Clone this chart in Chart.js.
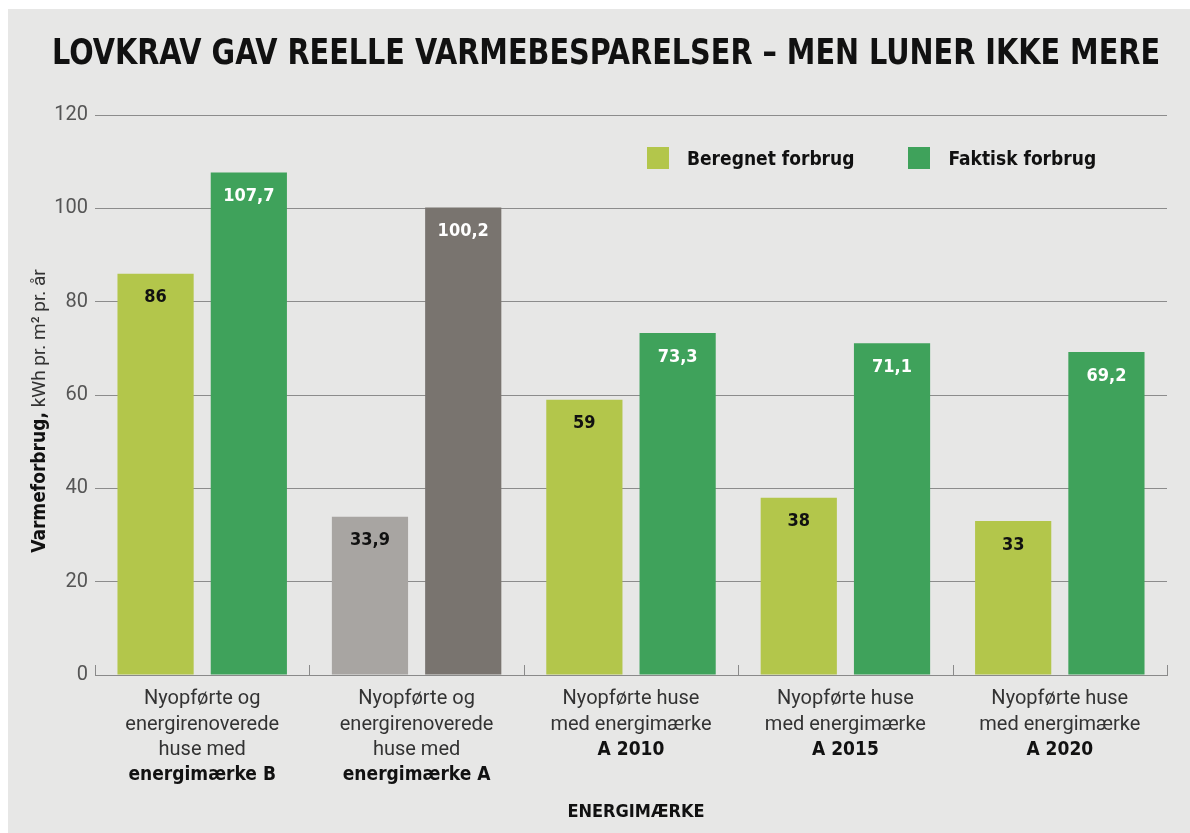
<!DOCTYPE html>
<html>
<head>
<meta charset="utf-8">
<script src="https://cdn.jsdelivr.net/npm/chart.js@4.4.1/dist/chart.umd.min.js"></script>
<style>
    html, body { margin: 0; padding: 0; background: #ffffff; }
    #wrap { position: absolute; left: 8px; top: 9px; width: 1182px; height: 824px; background: #e7e7e6; }
    #holder { position: absolute; left: 0; top: 0; width: 1190px; height: 833px; }
    #legend { position: absolute; top: 147px; left: 647px; display: flex; font-family: "DejaVu Sans Condensed", "DejaVu Sans", sans-serif; font-weight: bold; font-size: 19px; color: #111; }
    #legend .item { display: flex; align-items: center; margin-right: 54px; }
    #legend .box { width: 22px; height: 22px; margin-right: 18px; }
</style>
</head>
<body>
<div id="wrap"></div>
<div id="holder"><canvas id="grafico" width="1190" height="833"></canvas></div>
<div id="legend"></div>
<script>
// =================================================================
// Data
// =================================================================
const titulo = 'LOVKRAV GAV REELLE VARMEBESPARELSER – MEN LUNER IKKE MERE';
const kategoriLinjer = [
    ['Nyopførte og', 'energirenoverede', 'huse med'],
    ['Nyopførte og', 'energirenoverede', 'huse med'],
    ['Nyopførte huse', 'med energimærke'],
    ['Nyopførte huse', 'med energimærke'],
    ['Nyopførte huse', 'med energimærke']
];
const kategoriFed = ['energimærke B', 'energimærke A', 'A 2010', 'A 2015', 'A 2020'];
const serieNavne = ['Beregnet forbrug', 'Faktisk forbrug'];
const beregnet = [86, 33.9, 59, 38, 33];
const faktisk = [107.7, 100.2, 73.3, 71.1, 69.2];
const yTicks = [0, 20, 40, 60, 80, 100, 120];
const xTitel = 'ENERGIMÆRKE';
const yTitelFed = 'Varmeforbrug,';
const yTitelRest = ' kWh pr. m² pr. år';

const lysGroen = '#b3c64b';
const moerkGroen = '#3fa25b';
const lysGraa = '#a8a5a2';
const moerkGraa = '#79746f';

const tekstFont = 'Roboto, "Noto Sans", sans-serif';
const fedFont = '"DejaVu Sans Condensed", "DejaVu Sans", sans-serif';

const fmt = v => String(v).replace('.', ',');

// legend (HTML)
const legendEl = document.getElementById('legend');
[lysGroen, moerkGroen].forEach((c, i) => {
    const it = document.createElement('div');
    it.className = 'item';
    it.innerHTML = '<span class="box" style="background:' + c + '"></span>' + serieNavne[i];
    legendEl.appendChild(it);
});

// custom drawing: title, labels in bars, x labels, y title, ticks
const tegnPlugin = {
    id: 'tegn',
    afterDraw(chart) {
        const ctx = chart.ctx;
        const area = chart.chartArea;
        const x = chart.scales.x;

        // title, fitted to width
        ctx.save();
        ctx.font = 'bold 36px ' + fedFont;
        ctx.fillStyle = '#111';
        ctx.textBaseline = 'alphabetic';
        const w = ctx.measureText(titulo).width;
        const maal = 1108;
        ctx.translate(52, 64);
        ctx.scale(maal / w, 1);
        ctx.fillText(titulo, 0, 0);
        ctx.restore();

        // values inside bars
        ctx.save();
        ctx.font = 'bold 18px ' + fedFont;
        ctx.textAlign = 'center';
        ctx.textBaseline = 'middle';
        chart.data.datasets.forEach((ds, di) => {
            chart.getDatasetMeta(di).data.forEach((bar, i) => {
                ctx.fillStyle = (di === 0) ? '#111' : '#fff';
                ctx.fillText(fmt(ds.data[i]), bar.x, bar.y + 24);
            });
        });
        ctx.restore();

        // x-axis tick marks pointing up
        ctx.save();
        ctx.strokeStyle = '#8a8a8a';
        ctx.lineWidth = 1;
        const n = kategoriLinjer.length;
        const bredde = (area.right - area.left) / n;
        for (let i = 0; i <= n; i++) {
            const px = Math.round(area.left + i * bredde) + 0.5;
            ctx.beginPath();
            ctx.moveTo(px, area.bottom - 10);
            ctx.lineTo(px, area.bottom);
            ctx.stroke();
        }
        ctx.restore();

        // category labels
        ctx.save();
        ctx.textAlign = 'center';
        ctx.textBaseline = 'middle';
        kategoriLinjer.forEach((linjer, i) => {
            const cx = x.getPixelForTick(i);
            let y = area.bottom + 24;
            ctx.fillStyle = '#333';
            ctx.font = '20px ' + tekstFont;
            linjer.forEach(l => { ctx.fillText(l, cx, y); y += 25.5; });
            ctx.fillStyle = '#111';
            ctx.font = 'bold 19px ' + fedFont;
            ctx.fillText(kategoriFed[i], cx, y);
        });
        // x title
        ctx.font = 'bold 18px ' + fedFont;
        ctx.fillStyle = '#111';
        ctx.fillText(xTitel, (area.left + area.right) / 2 + 5, 812);
        ctx.restore();

        // y title with bold part
        ctx.save();
        ctx.translate(40, 411);
        ctx.rotate(-Math.PI / 2);
        ctx.textBaseline = 'middle';
        ctx.font = 'bold 19px ' + fedFont;
        const w1 = ctx.measureText(yTitelFed).width;
        ctx.font = '19px ' + tekstFont;
        const w2 = ctx.measureText(yTitelRest).width;
        let sx = -(w1 + w2) / 2;
        ctx.font = 'bold 19px ' + fedFont;
        ctx.fillStyle = '#111';
        ctx.fillText(yTitelFed, sx, 0);
        ctx.font = '19px ' + tekstFont;
        ctx.fillStyle = '#333';
        ctx.fillText(yTitelRest, sx + w1, 0);
        ctx.restore();
    }
};

const ctx = document.getElementById('grafico').getContext('2d');
new Chart(ctx, {
    type: 'bar',
    data: {
        labels: kategoriFed,
        datasets: [
            {
                label: serieNavne[0],
                data: beregnet,
                backgroundColor: [lysGroen, lysGraa, lysGroen, lysGroen, lysGroen]
            },
            {
                label: serieNavne[1],
                data: faktisk,
                backgroundColor: [moerkGroen, moerkGraa, moerkGroen, moerkGroen, moerkGroen]
            }
        ]
    },
    options: {
        responsive: false,
        animation: false,
        layout: { padding: { top: 115, right: 23, left: 0, bottom: 0 } },
        datasets: { bar: { categoryPercentage: 0.87, barPercentage: 0.817 } },
        plugins: {
            legend: { display: false },
            title: { display: false },
            tooltip: { enabled: false }
        },
        scales: {
            x: {
                afterFit(s) { s.height = 158; },
                ticks: { display: false },
                grid: { display: false },
                border: { display: true, color: '#8a8a8a' }
            },
            y: {
                min: 0,
                max: 120,
                afterFit(s) { s.width = 95; },
                afterBuildTicks(s) { s.ticks = yTicks.map(v => ({ value: v })); },
                ticks: {
                    color: '#555',
                    font: { family: tekstFont, size: 20 },
                    padding: 7
                },
                grid: { color: '#8c8c8c', drawTicks: false, lineWidth: 1 },
                border: { display: false }
            }
        }
    },
    plugins: [tegnPlugin]
});
</script>
</body>
</html>
